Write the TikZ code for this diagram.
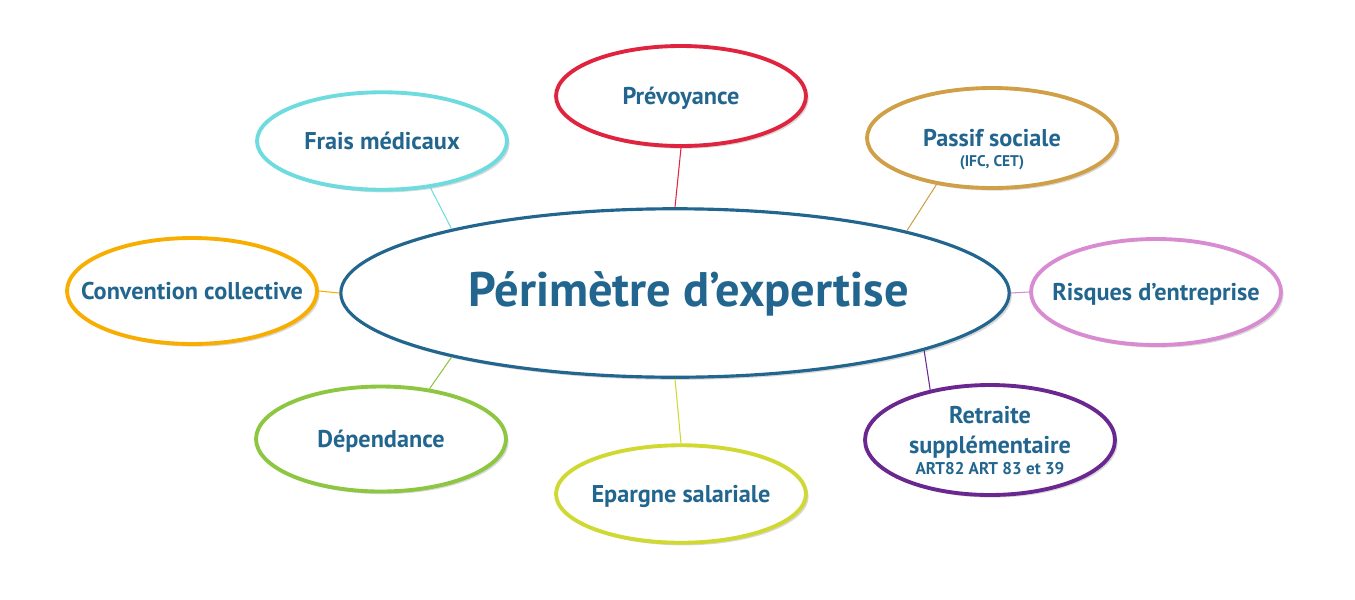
\documentclass[tikz,border=0pt]{standalone}
\usepackage{fontspec}
\setmainfont{PT Sans}
\usetikzlibrary{shapes,shadows,calc}
\definecolor{txtblue}{HTML}{22668F}
\definecolor{cprev}{HTML}{E0243F}
\definecolor{cfrais}{HTML}{6EDCDE}
\definecolor{cpassif}{HTML}{D0A048}
\definecolor{cconv}{HTML}{F8AE00}
\definecolor{crisq}{HTML}{D98BD2}
\definecolor{cdep}{HTML}{8DC641}
\definecolor{cepar}{HTML}{D0D832}
\definecolor{cretr}{HTML}{6B2790}
% texte sans taille, pour garder celle des ellipses
\newcommand\etiq[2][-0.35em]{\makebox[0pt]{\raisebox{#1}[0pt][0pt]{\begin{tabular}[t]{@{}c@{}}#2\end{tabular}}}}

\begin{document}
\begin{tikzpicture}[x=0.02cm,y=-0.02cm,
	bulle/.style={ellipse, fill=white, line width=2.2pt, inner sep=0pt, minimum width=5cm, minimum height=2cm,
		text=txtblue, font=\bfseries\fontsize{13.8}{17}\selectfont,
		drop shadow={opacity=.3, shadow xshift=1.5pt, shadow yshift=-1.5pt}},
	lien/.style={line width=0.6pt}]

\useasboundingbox (0,0) rectangle (1355,599);

% centre
\node[bulle, draw=txtblue, line width=1.8pt, minimum width=13.37cm, minimum height=3.37cm,
	font=\bfseries\fontsize{27.6}{32}\selectfont] (centre) at (675,293)
	{\hspace*{0.55cm}\etiq[-0.27em]{Périmètre d’expertise}};

% bulles
\node[bulle, draw=cprev] (prev) at (681,96) {\etiq{Prévoyance}};
\node[bulle, draw=cfrais, minimum height=1.95cm] (frais) at (382,141) {\etiq{Frais médicaux}};
\node[bulle, draw=cpassif] (passif) at (992,138)
	{\etiq{Passif sociale\\[-5.5pt]{\fontsize{8.8}{10}\selectfont (IFC, CET)}}};
\node[bulle, draw=cconv, minimum height=2.12cm] (conv) at (192,291) {\etiq{Convention collective}};
\node[bulle, draw=crisq, minimum height=2.12cm] (risq) at (1156,292) {\etiq{Risques d’entreprise}};
\node[bulle, draw=cdep, minimum height=2.1cm] (dep) at (381,439) {\etiq{Dépendance}};
\node[bulle, draw=cepar, minimum height=1.95cm] (epar) at (681,494) {\etiq{Epargne salariale}};
\node[bulle, draw=cretr, minimum height=2.2cm] (retr) at (990,440)
	{\etiq[9.4pt]{Retraite\\supplémentaire\\[-5pt]{\fontsize{9.7}{11}\selectfont ART82 ART 83 et 39}}};

% liens
\foreach \a/\b/\c in {prev.south/centre.north/cprev, frais.-44/centre.164/cfrais,
	passif.-140/centre.15.6/cpassif, conv.east/centre.west/cconv, risq.west/centre.east/crisq,
	dep.46.6/centre.-164.5/cdep, epar.north/centre.south/cepar, retr.140/centre.-13.5/cretr}
{
	\draw[lien, \c] (\a) -- (\b);
}

\end{tikzpicture}
\end{document}
